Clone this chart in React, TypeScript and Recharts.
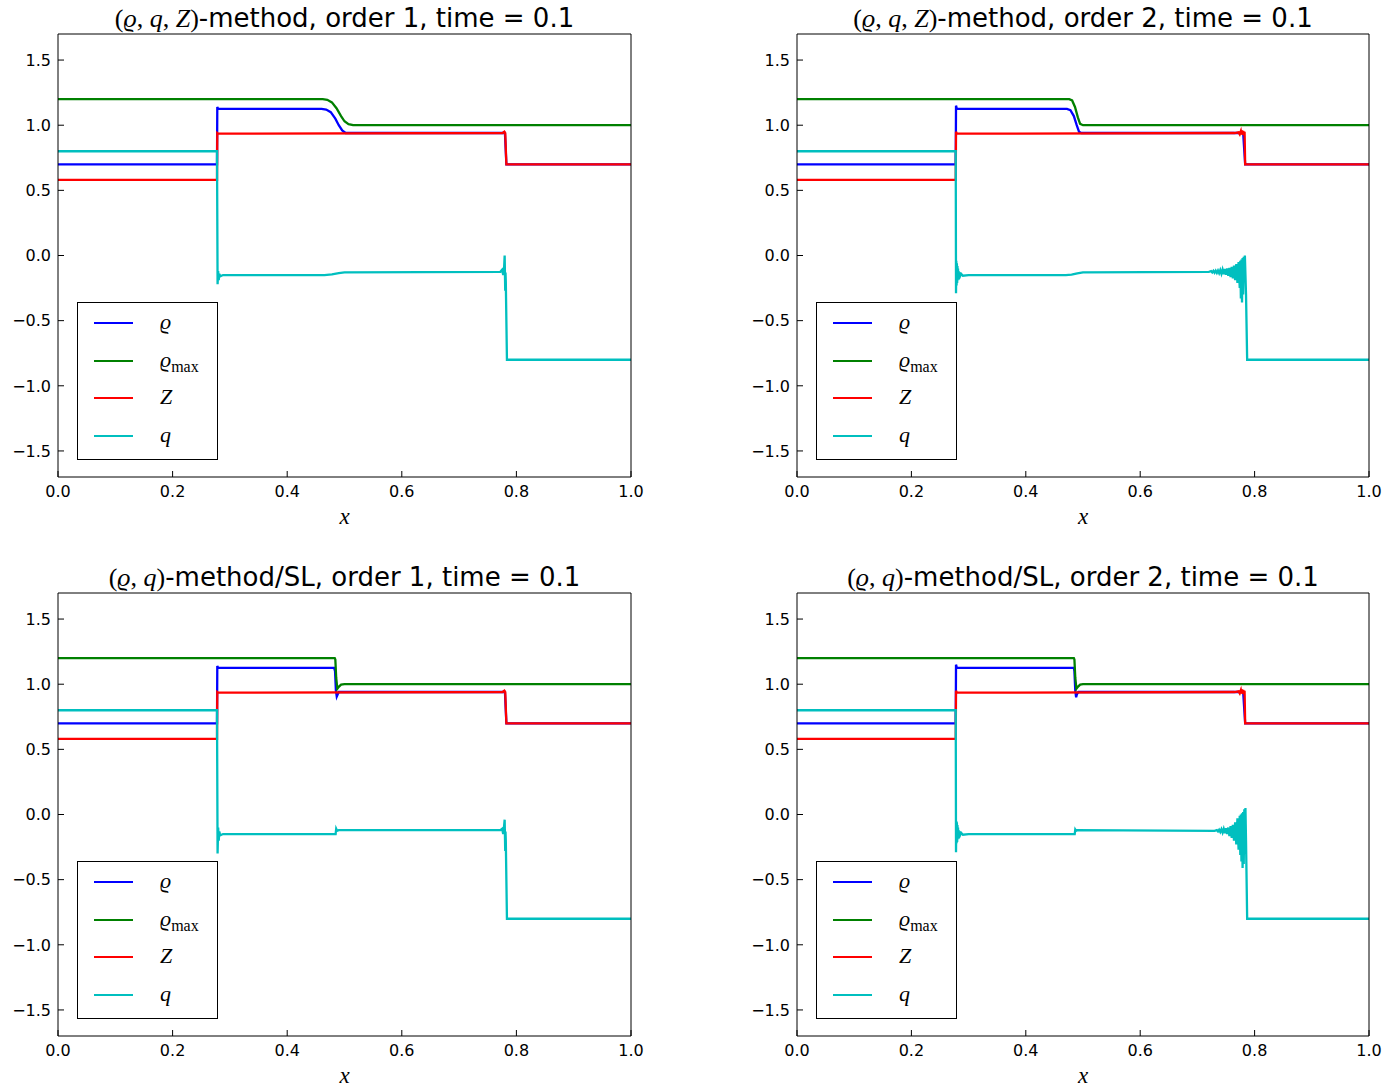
import React from 'react';
import { LineChart, Line, XAxis, YAxis, Legend } from 'recharts';

type Pt = [number, number];

const X_TICKS = [0, 0.2, 0.4, 0.6, 0.8, 1.0];
const Y_TICKS = [-1.5, -1.0, -0.5, 0, 0.5, 1.0, 1.5];
const Y_DOMAIN: [number, number] = [-1.7, 1.7];

// --- (ϱ,q,Z)-method, order 1 ---
const rhoA: Pt[] = [[0, 0.7], [0.2775, 0.7], [0.278, 1.14], [0.2795, 1.125], [0.46, 1.125], [0.468, 1.12], [0.476, 1.1], [0.484, 1.05], [0.49, 1.0], [0.496, 0.96], [0.502, 0.94], [0.78, 0.94], [0.7825, 0.7], [1, 0.7]];
const rhoMaxA: Pt[] = [[0, 1.2], [0.462, 1.2], [0.47, 1.195], [0.478, 1.175], [0.486, 1.13], [0.494, 1.07], [0.5, 1.03], [0.507, 1.008], [0.515, 1.0], [1, 1.0]];
const zA: Pt[] = [[0, 0.58], [0.2775, 0.58], [0.278, 0.94], [0.2795, 0.935], [0.776, 0.94], [0.779, 0.95], [0.7805, 0.94], [0.7825, 0.7], [1, 0.7]];
const qA: Pt[] = [[0, 0.8], [0.2775, 0.8], [0.2785, -0.22], [0.2795, -0.12], [0.2805, -0.19], [0.2815, -0.14], [0.283, -0.16], [0.288, -0.15], [0.465, -0.15], [0.478, -0.145], [0.49, -0.135], [0.5, -0.13], [0.772, -0.125], [0.775, -0.11], [0.777, -0.15], [0.7785, -0.1], [0.7795, 0.0], [0.7805, -0.27], [0.781, -0.13], [0.7815, -0.2], [0.7835, -0.8], [1, -0.8]];

// --- (ϱ,q,Z)-method, order 2 ---
const rhoB: Pt[] = [[0, 0.7], [0.2775, 0.7], [0.278, 1.15], [0.2795, 1.125], [0.472, 1.125], [0.478, 1.115], [0.484, 1.07], [0.489, 1.0], [0.493, 0.95], [0.497, 0.94], [0.78, 0.94], [0.7835, 0.7], [1, 0.7]];
const rhoMaxB: Pt[] = [[0, 1.2], [0.476, 1.2], [0.481, 1.19], [0.486, 1.14], [0.491, 1.06], [0.495, 1.01], [0.5, 1.0], [1, 1.0]];
const zB: Pt[] = [[0, 0.58], [0.2775, 0.58], [0.278, 0.95], [0.2795, 0.935], [0.765, 0.94], [0.772, 0.945], [0.774, 0.93], [0.776, 0.955], [0.777, 0.93], [0.778, 0.96], [0.779, 0.925], [0.78, 0.955], [0.781, 0.93], [0.7825, 0.95], [0.7835, 0.7], [1, 0.7]];
const qB: Pt[] = [
  [0, 0.8], [0.2775, 0.8], [0.278, -0.29], [0.2785, -0.04], [0.279, -0.23], [0.2795, -0.06], [0.28, -0.21], [0.2805, -0.08],
  [0.281, -0.19], [0.2815, -0.1], [0.282, -0.18], [0.2825, -0.12], [0.283, -0.17], [0.284, -0.13], [0.285, -0.16], [0.287, -0.14],
  [0.29, -0.155], [0.3, -0.15], [0.47, -0.15], [0.48, -0.147], [0.49, -0.138], [0.5, -0.13], [0.72, -0.125],
  [0.724, -0.12], [0.726, -0.13], [0.728, -0.118], [0.73, -0.132], [0.732, -0.117], [0.734, -0.134], [0.736, -0.115], [0.738, -0.136],
  [0.74, -0.112], [0.742, -0.14], [0.744, -0.108], [0.746, -0.143], [0.748, -0.104], [0.75, -0.148], [0.752, -0.1], [0.754, -0.155],
  [0.756, -0.095], [0.758, -0.165], [0.76, -0.088], [0.762, -0.175], [0.764, -0.078], [0.766, -0.19], [0.768, -0.065], [0.77, -0.21],
  [0.772, -0.05], [0.774, -0.25], [0.775, -0.04], [0.776, -0.33], [0.777, -0.03], [0.778, -0.36], [0.779, -0.02], [0.78, -0.3],
  [0.781, -0.01], [0.782, -0.2], [0.783, 0.0], [0.785, -0.3], [0.787, -0.8], [1, -0.8],
];

// --- (ϱ,q)-method/SL, order 1 ---
const rhoC: Pt[] = [[0, 0.7], [0.2775, 0.7], [0.278, 1.14], [0.2795, 1.125], [0.482, 1.125], [0.4835, 1.1], [0.485, 0.95], [0.4865, 0.905], [0.488, 0.92], [0.49, 0.94], [0.78, 0.94], [0.7825, 0.7], [1, 0.7]];
const rhoMaxC: Pt[] = [[0, 1.2], [0.483, 1.2], [0.484, 1.19], [0.4855, 1.05], [0.4875, 0.965], [0.49, 0.98], [0.494, 0.997], [0.5, 1.0], [1, 1.0]];
const zC: Pt[] = [[0, 0.58], [0.2775, 0.58], [0.278, 0.94], [0.2795, 0.935], [0.776, 0.94], [0.779, 0.95], [0.7805, 0.94], [0.7825, 0.7], [1, 0.7]];
const qC: Pt[] = [[0, 0.8], [0.2775, 0.8], [0.2785, -0.3], [0.2795, -0.1], [0.2805, -0.2], [0.2815, -0.13], [0.283, -0.16], [0.288, -0.15], [0.483, -0.15], [0.4845, -0.15], [0.4855, -0.11], [0.487, -0.125], [0.49, -0.12], [0.772, -0.12], [0.775, -0.11], [0.777, -0.15], [0.7785, -0.09], [0.7795, -0.04], [0.7805, -0.28], [0.781, -0.13], [0.7815, -0.2], [0.7835, -0.8], [1, -0.8]];

// --- (ϱ,q)-method/SL, order 2 ---
const rhoD: Pt[] = [[0, 0.7], [0.2775, 0.7], [0.278, 1.15], [0.2795, 1.125], [0.484, 1.125], [0.485, 1.1], [0.4865, 0.95], [0.488, 0.9], [0.4895, 0.925], [0.492, 0.94], [0.78, 0.94], [0.7835, 0.7], [1, 0.7]];
const rhoMaxD: Pt[] = [[0, 1.2], [0.484, 1.2], [0.485, 1.19], [0.4865, 1.05], [0.4885, 0.965], [0.491, 0.98], [0.495, 0.997], [0.5, 1.0], [1, 1.0]];
const zD: Pt[] = [[0, 0.58], [0.2775, 0.58], [0.278, 0.95], [0.2795, 0.935], [0.765, 0.94], [0.772, 0.945], [0.774, 0.93], [0.776, 0.955], [0.777, 0.93], [0.778, 0.96], [0.779, 0.925], [0.78, 0.955], [0.781, 0.93], [0.7825, 0.95], [0.7835, 0.7], [1, 0.7]];
const qD: Pt[] = [
  [0, 0.8], [0.2775, 0.8], [0.278, -0.29], [0.2785, -0.05], [0.279, -0.22], [0.2795, -0.06], [0.28, -0.21], [0.2805, -0.08],
  [0.281, -0.19], [0.2815, -0.1], [0.282, -0.18], [0.2825, -0.12], [0.283, -0.17], [0.284, -0.13], [0.285, -0.16], [0.287, -0.14],
  [0.29, -0.155], [0.3, -0.15], [0.484, -0.15], [0.4855, -0.15], [0.4865, -0.115], [0.488, -0.125], [0.49, -0.12], [0.73, -0.125],
  [0.734, -0.12], [0.736, -0.13], [0.738, -0.117], [0.74, -0.134], [0.742, -0.113], [0.744, -0.138], [0.746, -0.11], [0.748, -0.143],
  [0.75, -0.105], [0.752, -0.15], [0.754, -0.1], [0.756, -0.165], [0.758, -0.09], [0.76, -0.18], [0.762, -0.08], [0.764, -0.2],
  [0.766, -0.06], [0.768, -0.23], [0.77, -0.03], [0.772, -0.27], [0.774, -0.01], [0.775, -0.31], [0.776, 0.0], [0.777, -0.36],
  [0.778, 0.01], [0.779, -0.41], [0.78, 0.02], [0.781, -0.38], [0.782, 0.04], [0.783, -0.3], [0.784, 0.05], [0.785, -0.2],
  [0.787, -0.8], [1, -0.8],
];

const COLORS = { rho: '#0000ff', rhoMax: '#008000', z: '#ff0000', q: '#00bfbf' };

const SANS = '"DejaVu Sans", sans-serif';
const MATH = '"Liberation Serif", "DejaVu Serif", serif';

const toRows = (pts: Pt[]) => pts.map(([x, y]) => ({ x, y }));

const fmt = (v: number) => (v < 0 ? '\u2212' : '') + Math.abs(v).toFixed(1);

// ticks point inward, labels only on bottom/left
const BottomTick = ({ x, y, payload }: any) => (
  <g>
    <line x1={x} x2={x} y1={y} y2={y - 6} stroke="#000" />
    <text x={x} y={y + 20} textAnchor="middle" fontSize={16} fontFamily={SANS} fill="#000">{fmt(payload.value)}</text>
  </g>
);
const TopTick = ({ x, y }: any) => <line x1={x} x2={x} y1={y} y2={y + 6} stroke="#000" />;
const LeftTick = ({ x, y, payload }: any) => (
  <g>
    <line x1={x} x2={x + 6} y1={y} y2={y} stroke="#000" />
    <text x={x - 7} y={y} dy="0.36em" textAnchor="end" fontSize={16} fontFamily={SANS} fill="#000">{fmt(payload.value)}</text>
  </g>
);
const RightTick = ({ x, y }: any) => <line x1={x} x2={x - 6} y1={y} y2={y} stroke="#000" />;

const LEGEND_ROWS = [
  { color: COLORS.rho, label: <i>ϱ</i> },
  {
    color: COLORS.rhoMax,
    label: <span><i>ϱ</i><span style={{ fontSize: 16, fontStyle: 'normal', position: 'relative', top: 5 }}>max</span></span>,
  },
  { color: COLORS.z, label: <i>Z</i> },
  { color: COLORS.q, label: <i>q</i> },
];
const ROW_Y = [21, 59, 96, 134];

function LegendBox() {
  return (
    <div style={{ position: 'relative', width: 141, height: 158, border: '1px solid #000', boxSizing: 'border-box', background: '#fff' }}>
      {LEGEND_ROWS.map((r, i) => (
        <React.Fragment key={i}>
          <div style={{ position: 'absolute', left: 16, top: ROW_Y[i] - 2, width: 39, height: 2, background: r.color }} />
          <div style={{ position: 'absolute', left: 82, top: ROW_Y[i] - 15, fontFamily: MATH, fontSize: 22, lineHeight: '26px', whiteSpace: 'nowrap' }}>{r.label}</div>
        </React.Fragment>
      ))}
    </div>
  );
}

type PanelCfg = {
  left: number;
  top: number;
  width: number;
  math: React.ReactNode;
  text: string;
  rho: Pt[];
  rhoMax: Pt[];
  z: Pt[];
  q: Pt[];
};

const PLOT_H = 443;
// space around the plot box; the 1px axes take one pixel of it on each side
const PAD = { top: 10, right: 22, bottom: 30, left: 60 };

function Panel({ cfg }: { cfg: PanelCfg }) {
  const series = [
    { key: 'rho', pts: cfg.rho, color: COLORS.rho },
    { key: 'rhoMax', pts: cfg.rhoMax, color: COLORS.rhoMax },
    { key: 'z', pts: cfg.z, color: COLORS.z },
    { key: 'q', pts: cfg.q, color: COLORS.q },
  ];
  const margin = { top: PAD.top - 1, right: PAD.right - 1, bottom: PAD.bottom - 1, left: PAD.left - 1 };
  return (
    <>
      <div style={{ position: 'absolute', left: cfg.left, top: cfg.top - 31, width: cfg.width, textAlign: 'center', fontFamily: SANS, fontSize: 26, lineHeight: '30px', whiteSpace: 'nowrap' }}>
        <span style={{ fontFamily: MATH }}>{cfg.math}</span>{cfg.text}
      </div>
      <div style={{ position: 'absolute', left: cfg.left - PAD.left, top: cfg.top - PAD.top }}>
        <LineChart width={cfg.width + PAD.left + PAD.right} height={PLOT_H + PAD.top + PAD.bottom} margin={margin}>
          <XAxis xAxisId="b" type="number" dataKey="x" domain={[0, 1]} ticks={X_TICKS} interval={0} height={1} orientation="bottom" tickSize={0} tickMargin={0} tickLine={false} axisLine={{ stroke: '#000' }} tick={BottomTick} />
          <XAxis xAxisId="t" type="number" dataKey="x" domain={[0, 1]} ticks={X_TICKS} interval={0} height={1} orientation="top" tickSize={0} tickMargin={0} tickLine={false} axisLine={{ stroke: '#000' }} tick={TopTick} />
          <YAxis yAxisId="l" type="number" domain={Y_DOMAIN} ticks={Y_TICKS} interval={0} width={1} orientation="left" tickSize={0} tickMargin={0} tickLine={false} axisLine={{ stroke: '#000' }} tick={LeftTick} />
          <YAxis yAxisId="r" type="number" domain={Y_DOMAIN} ticks={Y_TICKS} interval={0} width={1} orientation="right" tickSize={0} tickMargin={0} tickLine={false} axisLine={{ stroke: '#000' }} tick={RightTick} />
          <Legend layout="vertical" align="center" verticalAlign="middle" wrapperStyle={{ left: PAD.left + 19, top: PAD.top + 268, width: 141, height: 158 }} content={() => <LegendBox />} />
          {series.map((s) => (
            <Line key={s.key} xAxisId="b" yAxisId="l" data={toRows(s.pts)} dataKey="y" name={s.key} stroke={s.color} strokeWidth={2.3} dot={false} activeDot={false} isAnimationActive={false} />
          ))}
        </LineChart>
      </div>
      <div style={{ position: 'absolute', left: cfg.left, top: cfg.top + PLOT_H + 27, width: cfg.width, textAlign: 'center', fontFamily: MATH, fontStyle: 'italic', fontSize: 23, lineHeight: '26px' }}>x</div>
    </>
  );
}

const mathQZ = <>(<i>ϱ</i>, <i>q</i>, <i>Z</i>)</>;
const mathQ = <>(<i>ϱ</i>, <i>q</i>)</>;

const PANELS: PanelCfg[] = [
  { left: 58, top: 34, width: 573, math: mathQZ, text: '-method, order 1, time = 0.1', rho: rhoA, rhoMax: rhoMaxA, z: zA, q: qA },
  { left: 797, top: 34, width: 572, math: mathQZ, text: '-method, order 2, time = 0.1', rho: rhoB, rhoMax: rhoMaxB, z: zB, q: qB },
  { left: 58, top: 593, width: 573, math: mathQ, text: '-method/SL, order 1, time = 0.1', rho: rhoC, rhoMax: rhoMaxC, z: zC, q: qC },
  { left: 797, top: 593, width: 572, math: mathQ, text: '-method/SL, order 2, time = 0.1', rho: rhoD, rhoMax: rhoMaxD, z: zD, q: qD },
];

export default function App() {
  return (
    <div style={{ position: 'absolute', left: 0, top: 0, width: 1399, height: 1090, background: '#fff' }}>
      {PANELS.map((p, i) => (
        <Panel key={i} cfg={p} />
      ))}
    </div>
  );
}
